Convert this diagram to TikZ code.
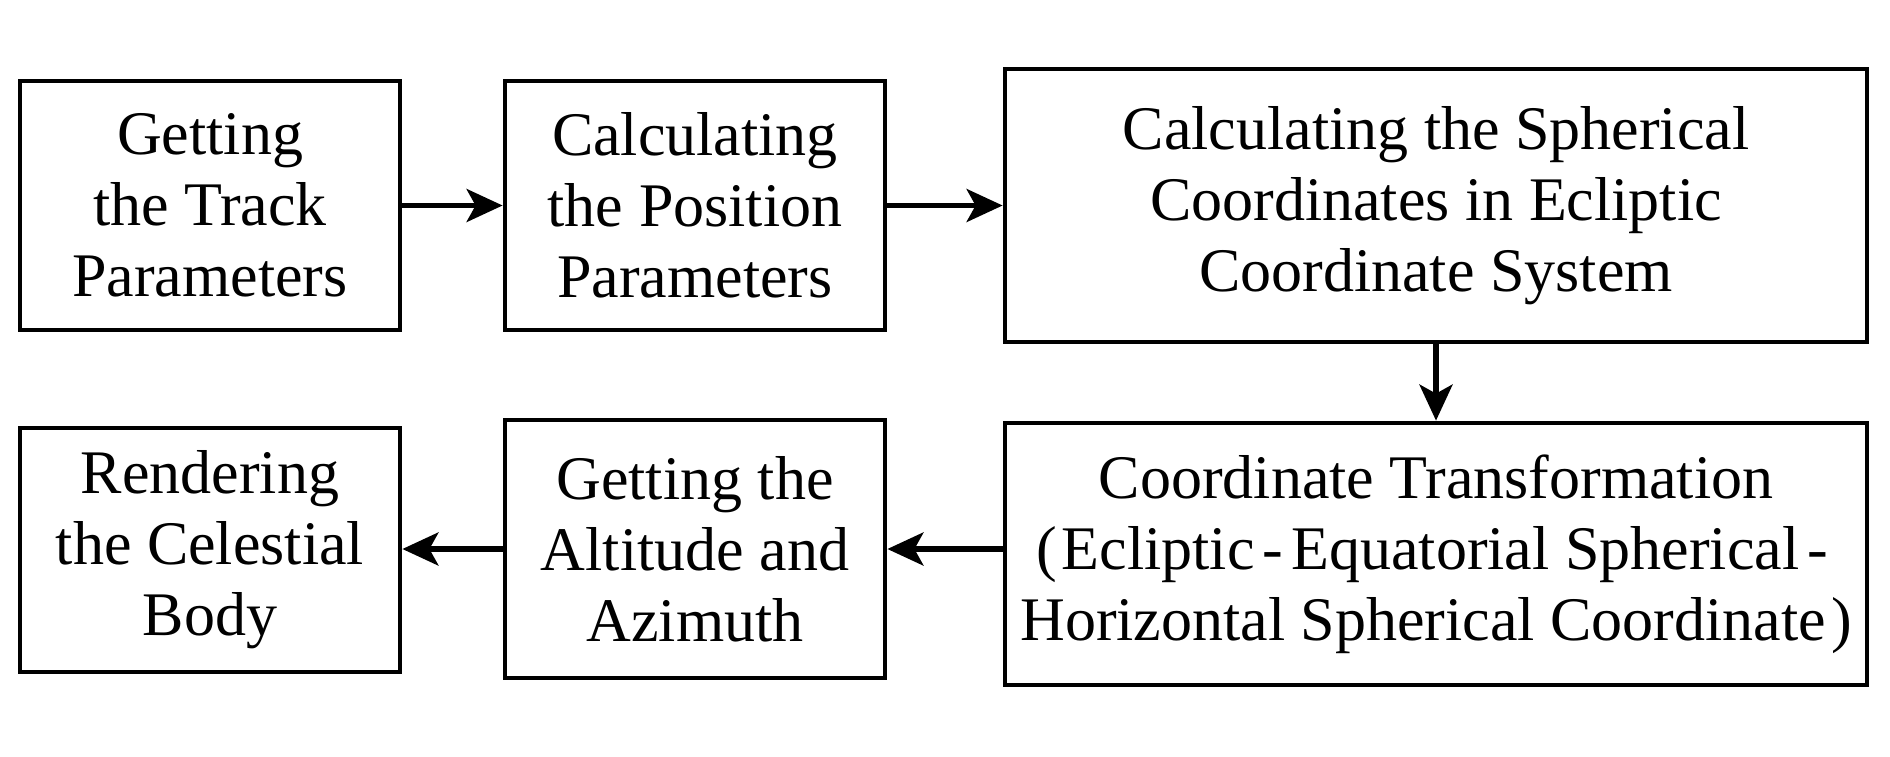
\documentclass[tikz,border=0pt]{standalone}
\usepackage{fontspec}
\setmainfont{Liberation Serif}
\usetikzlibrary{arrows.meta}
\newcommand{\sphyph}{\kern0.13em-\kern0.13em}
\begin{document}
\begin{tikzpicture}[x=0.5pt,y=-0.5pt,
  box/.style={draw,line width=2.4pt,rectangle,inner sep=0pt,align=center,
    font=\fontsize{31pt}{35.5pt}\selectfont},
  conn/.style={line width=2.6pt,-{Stealth[length=18pt,width=16.5pt,inset=4.5pt]}}]
\useasboundingbox (0,0) rectangle (1890,756);
\node[box,minimum width=190pt,minimum height=124.5pt] (b1) at (210,205.5) {Getting\\the Track\\Parameters};
\node[box,minimum width=190pt,minimum height=124.5pt] (b2) at (695,205.5) {Calculating\\the Position\\Parameters};
\node[box,minimum width=431pt,minimum height=136.5pt] (b3) at (1436,205.5) {Calculating the Spherical\\Coordinates in Ecliptic\\Coordinate System};
\node[box,minimum width=431pt,minimum height=131pt] (b4) at (1436,554) {Coordinate Transformation\\(\kern0.08em Ecliptic\sphyph Equatorial Spherical\sphyph\\Horizontal Spherical Coordinate\kern0.08em)};
\node[box,minimum width=190pt,minimum height=129pt] (b5) at (695,549) {Getting the\\Altitude and\\Azimuth};
\node[box,minimum width=190pt,minimum height=122pt] (b6) at (210,550) {Rendering\\the Celestial\\Body};
\draw[conn] (b1.east) -- (b2.west);
\draw[conn] (b2.east) -- (b3.west |- b2.east);
\draw[conn] (b3.south) -- (b4.north);
\draw[conn] (b4.west |- b5.east) -- (b5.east);
\draw[conn] (b5.west) -- (b6.east |- b5.west);
\end{tikzpicture}
\end{document}
